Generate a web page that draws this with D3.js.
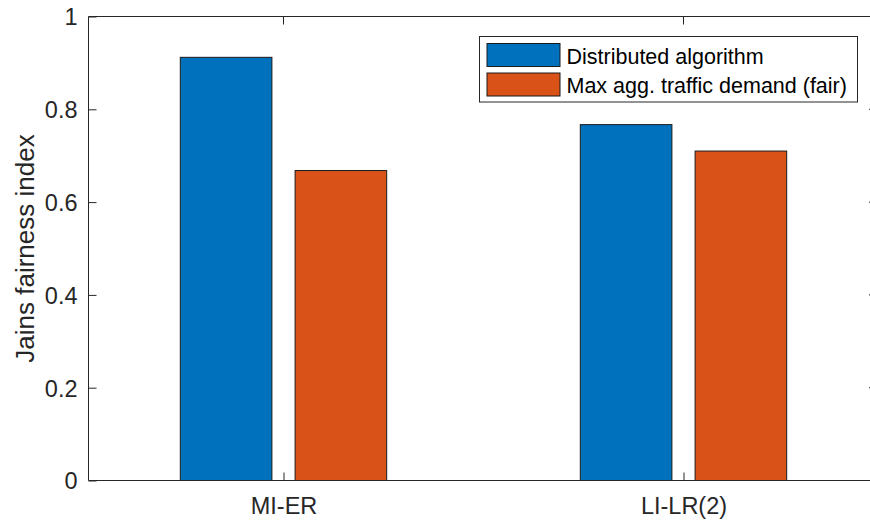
<!DOCTYPE html>
<html>
<head>
<meta charset="utf-8">
<script src="https://cdn.jsdelivr.net/npm/d3@7"></script>
<style>
  body { margin: 0; background: #fff; }
  svg { font-family: "Liberation Sans", Arial, Helvetica, sans-serif; }
</style>
</head>
<body>
<div id="chart"></div>
<script>
var categories = ["MI-ER", "LI-LR(2)"];
var seriesNames = ["Distributed algorithm", "Max agg. traffic demand (fair)"];
var distributed = [0.912, 0.767];
var maxAgg = [0.668, 0.710];
var yTicks = [0, 0.2, 0.4, 0.6, 0.8, 1];
var palette = ["#0072bd", "#d95319"];

var width = 870, height = 520;
var axLeft = 88.5, axTop = 16.5, axBottom = 480.5, axRight = 877;

var svg = d3.select("#chart").append("svg")
    .attr("width", width)
    .attr("height", height);

// category 1 at 283, category 2 at 683
var x = d3.scaleLinear().domain([1, 2]).range([283.5, 683.5]);
var y = d3.scaleLinear().domain([0, 1]).range([axBottom, axTop]);

var offset = 0.1435, barW = 0.229;

var series = [distributed, maxAgg];
series.forEach(function(vals, s){
    svg.selectAll(".bar" + s)
        .data(vals)
        .enter().append("rect")
        .attr("x", function(d, i){ return x(i + 1 + (s === 0 ? -offset : offset) - barW / 2); })
        .attr("width", x(1 + barW) - x(1))
        .attr("y", function(d){ return y(d); })
        .attr("height", function(d){ return y(0) - y(d); })
        .attr("fill", palette[s])
        .attr("stroke", "#1a1a1a")
        .attr("stroke-width", 1);
});

// axes box
svg.append("line").attr("x1", axLeft).attr("x2", axRight).attr("y1", axTop).attr("y2", axTop)
    .attr("stroke", "#262626");
svg.append("line").attr("x1", axLeft).attr("x2", axRight).attr("y1", axBottom).attr("y2", axBottom)
    .attr("stroke", "#262626");
svg.append("line").attr("x1", axLeft).attr("x2", axLeft).attr("y1", axTop).attr("y2", axBottom)
    .attr("stroke", "#262626");

// y axis
var yAxis = d3.axisLeft(y).tickValues(yTicks).tickSize(-8).tickPadding(11)
    .tickFormat(function(d){ return d === 0 || d === 1 ? d : d.toFixed(1); });
var gy = svg.append("g").attr("transform", "translate(" + axLeft + ",0)").call(yAxis);
gy.select(".domain").remove();
gy.selectAll("line").attr("stroke", "#262626");
gy.selectAll("text").attr("fill", "#262626").style("font-size", "23.5px").attr("dy", "0.36em");

// right side ticks (mostly outside the picture)
svg.selectAll(".rtick").data(yTicks).enter().append("line")
    .attr("x1", axRight - 8).attr("x2", axRight)
    .attr("y1", function(d){ return y(d); }).attr("y2", function(d){ return y(d); })
    .attr("stroke", "#262626");

// x axis
var xAxis = d3.axisBottom(x).tickValues([1, 2]).tickSize(-8).tickPadding(17)
    .tickFormat(function(d){ return categories[d - 1]; });
var gx = svg.append("g").attr("transform", "translate(0," + axBottom + ")").call(xAxis);
gx.select(".domain").remove();
gx.selectAll("line").attr("stroke", "#262626");
gx.selectAll("text").attr("fill", "#262626").style("font-size", "23.5px");

// top ticks
svg.selectAll(".ttick").data([1, 2]).enter().append("line")
    .attr("x1", function(d){ return x(d); }).attr("x2", function(d){ return x(d); })
    .attr("y1", axTop).attr("y2", axTop + 8).attr("stroke", "#262626");

// y label
svg.append("text")
    .attr("transform", "translate(33.5," + ((axTop + axBottom) / 2) + ") rotate(-90)")
    .attr("text-anchor", "middle")
    .attr("fill", "#262626")
    .style("font-size", "26px")
    .text("Jains fairness index");

// legend
var lg = svg.append("g");
lg.append("rect").attr("x", 479.5).attr("y", 36.5).attr("width", 378).attr("height", 65.5)
    .attr("fill", "#fff").attr("stroke", "#262626");
seriesNames.forEach(function(name, i){
    lg.append("rect").attr("x", 487).attr("y", 43.5 + i * 29.5).attr("width", 73).attr("height", 23)
        .attr("fill", palette[i]).attr("stroke", "#1a1a1a");
    lg.append("text").attr("x", 566.5).attr("y", 63.5 + i * 29.5)
        .attr("fill", "#000").style("font-size", "21.5px").text(name);
});
</script>
</body>
</html>
